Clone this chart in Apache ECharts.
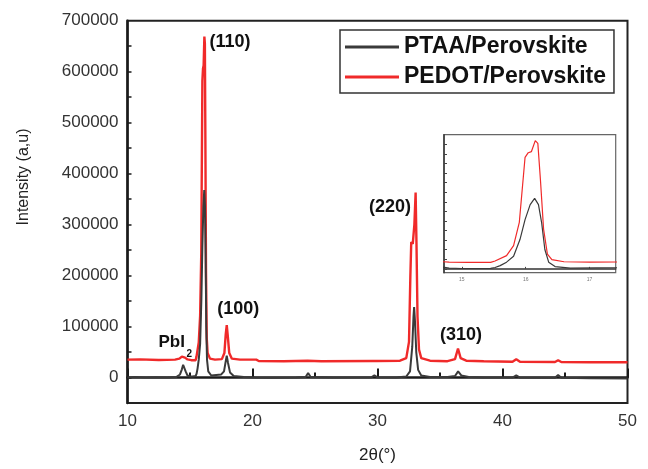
<!DOCTYPE html>
<html>
<head>
<meta charset="utf-8">
<script src="https://cdn.jsdelivr.net/npm/echarts@6/dist/echarts.min.js"></script>
<style>
  html, body { margin: 0; padding: 0; background: #fff; }
  #chart { width: 648px; height: 469px; }
</style>
</head>
<body>
<div id="chart"></div>
<script>
// XRD patterns, 2θ (degrees) and intensity (a.u.)
const ptaaAngle = [10.0, 10.6, 11.4, 12.3, 13.2, 13.9, 14.2, 14.35, 14.45, 14.55, 14.65, 14.8, 15.0, 15.2, 15.45,
  15.52, 15.6, 15.7, 15.81, 15.91, 15.99, 16.07, 16.14, 16.2, 16.25, 16.3, 16.36, 16.46, 16.7, 17.1, 17.5,
  17.72, 17.86, 17.94, 18.03, 18.2, 18.5, 19.3, 20.2, 21.5, 23.5, 24.25, 24.45, 24.65, 26.5, 29.5, 29.75, 30.0,
  31.5, 32.3, 32.6, 32.78, 32.88, 32.93, 33.0, 33.1, 33.25, 33.5, 34.2, 35.6, 36.2, 36.45, 36.7, 37.3, 38.5,
  40.8, 41.1, 41.4, 44.2, 44.45, 44.7, 47.0, 50.0];
const ptaaIntensity = [0, 800, 0, 500, 0, 1000, 6000, 16000, 25000, 23000, 12000, 4000, 2000, 2000, 3000,
  7000, 17000, 35000, 66000, 153000, 257000, 335000, 368000, 335000, 240000, 101000, 35000, 12000, 4000, 5000, 6000,
  12000, 32000, 43000, 30000, 10000, 3000, 1000, 0, -500, 0, 1000, 9000, 1000, 0, 500, 4000, 500,
  0, 2000, 12000, 60000, 120000, 138000, 110000, 50000, 15000, 4000, 1000, 1000, 3000, 12000, 4000, 1000, 0,
  0, 4000, 0, -500, 5000, -500, -1500, -2000];

const pedotAngle = [10.0, 11.0, 12.5, 13.8, 14.15, 14.35, 14.45, 14.6, 14.8, 15.1, 15.45,
  15.52, 15.7, 15.81, 15.9, 15.99, 16.04, 16.09, 16.15, 16.19, 16.23, 16.28, 16.34, 16.41, 16.6, 17.0, 17.55,
  17.75, 17.86, 17.94, 18.02, 18.14, 18.35, 19.0, 20.3, 20.5, 22.5, 24.4, 25.5, 29.6, 29.75, 29.95,
  31.8, 32.3, 32.52, 32.63, 32.7, 32.82, 32.95, 33.05, 33.12, 33.2, 33.32, 33.5, 34.2, 35.6, 36.2, 36.44, 36.65,
  37.1, 38.5, 40.8, 41.1, 41.4, 44.2, 44.45, 44.7, 47.0, 50.0];
const pedotIntensity = [35000, 35500, 34500, 35000, 37000, 41000, 42000, 39000, 35500, 34000, 34000,
  41000, 69000, 121000, 243000, 582000, 606000, 612000, 669000, 655000, 469000, 208000, 77000, 48000, 37000, 35000, 36000,
  48000, 85000, 103000, 82000, 48000, 37000, 35000, 35000, 32500, 32000, 33000, 32000, 32500, 35000, 32500,
  33000, 38000, 70000, 200000, 266000, 262000, 300000, 363000, 260000, 120000, 55000, 38000, 33000, 32000, 36000, 57000, 38000,
  33000, 32000, 31000, 36000, 31000, 30500, 34000, 30500, 30000, 30000];

const seriesNames = ['PTAA/Perovskite', 'PEDOT/Perovskite'];

// axis ticks and labels
const yTickValues = [0, 50000, 100000, 150000, 200000, 250000, 300000, 350000, 400000, 450000, 500000, 550000, 600000, 650000];
const yLabelValues = [0, 100000, 200000, 300000, 400000, 500000, 600000, 700000];
const insetXTicks = [15, 16, 17];
const insetYTicks = [0, 50000, 100000, 150000, 200000, 250000, 300000, 350000, 400000, 450000, 500000, 550000, 600000, 650000];

// peak annotations: text, 2θ, intensity (text anchor in data units)
const peakLabels = ['(110)', '(100)', '(220)', '(310)'];
const peakLabelAngle = [18.2, 18.86, 31.0, 36.68];
const peakLabelLevel = [659000, 135000, 334000, 84000];

const zip = (xs, ys) => xs.map((x, i) => [x, ys[i]]);
const ptaaData = zip(ptaaAngle, ptaaIntensity);
const pedotData = zip(pedotAngle, pedotIntensity);

const FONT = "'Liberation Sans', Arial, sans-serif";
const BLACK = '#3a3a3a';
const RED = '#f02a2a';

const chart = echarts.init(document.getElementById('chart'), null, { renderer: 'canvas' });

const option = {
  animation: false,
  backgroundColor: '#fff',
  textStyle: { fontFamily: FONT },
  legend: {
    data: seriesNames,
    orient: 'vertical',
    left: 340,
    top: 30,
    icon: 'rect',
    itemWidth: 54,
    itemHeight: 3,
    itemGap: 4,
    padding: [4, 8, 3, 5],
    borderColor: '#333',
    borderWidth: 1.5,
    textStyle: { fontSize: 23, fontWeight: 'bold', color: '#111', fontFamily: FONT, lineHeight: 26 }
  },
  grid: [
    { left: 127.5, right: 20.5, top: 20.7, bottom: 60, show: true, borderColor: '#222', borderWidth: 2 },
    { left: 444, top: 134.7, width: 171.7, height: 138, show: true, borderColor: '#666', borderWidth: 1.2, backgroundColor: '#fff' }
  ],
  xAxis: [
    {
      gridIndex: 0, type: 'value', min: 10, max: 50, interval: 10,
      name: '2θ(°)', nameLocation: 'middle', nameGap: 44,
      nameTextStyle: { fontSize: 17, color: '#222', fontFamily: FONT },
      axisLine: { lineStyle: { color: '#1a1a1a', width: 2.5 } },
      axisTick: { inside: true, length: 9, lineStyle: { color: '#1a1a1a', width: 2 } },
      minorTick: { show: true, splitNumber: 2, length: 5, lineStyle: { color: '#1a1a1a', width: 2 } },
      axisLabel: { fontSize: 17, color: '#333', margin: 10, fontFamily: FONT },
      splitLine: { show: false }
    },
    {
      gridIndex: 1, type: 'value', min: 14.72, max: 17.41,
      axisLine: { lineStyle: { color: '#333', width: 1.5 } },
      axisTick: { inside: true, length: 2, customValues: insetXTicks, lineStyle: { color: '#444' } },
      axisLabel: { customValues: insetXTicks, fontSize: 5, color: '#777', margin: 4, fontFamily: FONT },
      splitLine: { show: false }
    }
  ],
  yAxis: [
    {
      gridIndex: 0, type: 'value', min: -50000, max: 700000,
      axisLine: { show: true, lineStyle: { color: '#1a1a1a', width: 2.5 } },
      axisTick: { show: true, inside: true, length: 4, customValues: yTickValues, lineStyle: { color: '#1a1a1a', width: 1.5 } },
      axisLabel: { customValues: yLabelValues, formatter: v => String(v), fontSize: 17, color: '#333', margin: 9, fontFamily: FONT },
      splitLine: { show: false }
    },
    {
      gridIndex: 1, type: 'value', min: -20000, max: 700000,
      axisLine: { show: true, lineStyle: { color: '#333', width: 1.5 } },
      axisTick: { show: true, inside: true, length: 3, customValues: insetYTicks, lineStyle: { color: '#444' } },
      axisLabel: { show: false },
      splitLine: { show: false }
    }
  ],
  series: [
    { name: seriesNames[1], type: 'line', xAxisIndex: 0, yAxisIndex: 0, data: pedotData,
      symbol: 'none', lineStyle: { color: RED, width: 2.4 }, itemStyle: { color: RED } },
    { name: seriesNames[0], type: 'line', xAxisIndex: 0, yAxisIndex: 0, data: ptaaData,
      symbol: 'none', lineStyle: { color: BLACK, width: 2 }, itemStyle: { color: BLACK } },
    { name: seriesNames[1], type: 'line', xAxisIndex: 1, yAxisIndex: 1, data: pedotData,
      symbol: 'none', lineStyle: { color: RED, width: 1.2 }, itemStyle: { color: RED } },
    { name: seriesNames[0], type: 'line', xAxisIndex: 1, yAxisIndex: 1, data: ptaaData,
      symbol: 'none', lineStyle: { color: BLACK, width: 1.2 }, itemStyle: { color: BLACK } }
  ]
};

chart.setOption(option);

// annotation texts anchored to data coordinates
const texts = [];
peakLabels.forEach((t, i) => {
  const p = chart.convertToPixel({ gridIndex: 0 }, [peakLabelAngle[i], peakLabelLevel[i]]);
  texts.push({
    type: 'text', x: p[0], y: p[1], z: 10,
    style: { text: t, fill: '#111', font: 'bold 18px ' + FONT, align: 'center', verticalAlign: 'middle' }
  });
});
const pb = chart.convertToPixel({ gridIndex: 0 }, [13.54, 69600]);
texts.push({
  type: 'text', x: pb[0], y: pb[1], z: 10,
  style: { text: 'PbI', fill: '#111', font: 'bold 17px ' + FONT, align: 'center', verticalAlign: 'middle' }
});
texts.push({
  type: 'text', x: pb[0] + 17.5, y: pb[1] + 12, z: 10,
  style: { text: '2', fill: '#111', font: 'bold 10px ' + FONT, align: 'center', verticalAlign: 'middle' }
});
texts.push({
  type: 'text', x: 24, y: 177, rotation: Math.PI / 2, z: 10,
  style: { text: 'Intensity (a,u)', fill: '#222', font: '16px ' + FONT, align: 'center', verticalAlign: 'middle' }
});
chart.setOption({ graphic: texts });
</script>
</body>
</html>
